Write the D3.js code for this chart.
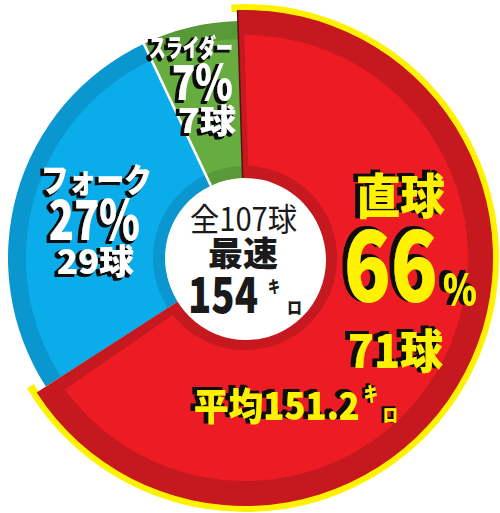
<!DOCTYPE html>
<html>
<head>
<meta charset="utf-8">
<script src="https://cdn.jsdelivr.net/npm/d3@7"></script>
<style>
  body { margin: 0; background: #fff; }
  svg { display: block; }
</style>
</head>
<body>
<svg id="chart" width="500" height="513"></svg>
<script>
// pitch mix
const pitchTypes = ["直球", "フォーク", "スライダー"];
const pitchCounts = [71, 29, 7];
const pitchPercents = [66, 27, 7];
// centre numbers
const totalPitches = 107;
const topSpeed = 154;
const avgFastball = 151.2;

const cx = 245, cy = 258;
const rHole = 80;
const rOuter = 237;     // blue / green
const rRed = 248;       // exploded fastball slice

const sliceColor = new Map();
sliceColor.set("直球", { main: "#ED1C24", dark: "#C5181F" });
sliceColor.set("フォーク", { main: "#0AADEA", dark: "#0A97CF" });
sliceColor.set("スライダー", { main: "#67AC3F", dark: "#579A37" });

const font = "'Noto Sans CJK JP', 'Noto Sans', sans-serif";

var svg = d3.select("#chart");

// drop shadows done with filters so each label is one text
var defs = svg.append("defs");
function makeShadow(id, dx, dy) {
    var f = defs.append("filter").attr("id", id)
        .attr("x", "-20%").attr("y", "-20%").attr("width", "140%").attr("height", "140%");
    f.append("feMorphology").attr("in", "SourceAlpha").attr("operator", "dilate").attr("radius", 0.7).attr("result", "fat");
    f.append("feOffset").attr("in", "fat").attr("dx", dx).attr("dy", dy).attr("result", "off");
    f.append("feFlood").attr("flood-color", "#111").attr("result", "blk");
    f.append("feComposite").attr("in", "blk").attr("in2", "off").attr("operator", "in").attr("result", "sh");
    var m = f.append("feMerge");
    m.append("feMergeNode").attr("in", "sh");
    m.append("feMergeNode").attr("in", "SourceGraphic");
}
makeShadow("shadow_white", -3, 2);
makeShadow("shadow_yellow", -4, -2);
makeShadow("shadow_small", -2, -1);

var g = svg.append("g").attr("transform", "translate(" + cx + "," + cy + ")");

var pie = d3.pie()
    .sort(null)
    .value(function(d) { return d.count; })
    .startAngle(-0.03)
    .endAngle(2 * Math.PI - 0.03);

var data = pitchTypes.map(function(t, i) {
    return { type: t, count: pitchCounts[i], pct: pitchPercents[i] };
});
var arcs = pie(data);
var red = arcs[0];
var others = arcs.slice(1);

// blue and green slices: dark ring then lighter body
g.selectAll(".slice_dark")
    .data(others)
    .join("path")
    .attr("class", "slice_dark")
    .attr("d", d3.arc().innerRadius(rHole).outerRadius(rOuter))
    .attr("fill", function(d) { return sliceColor.get(d.data.type).dark; });

g.selectAll(".slice_main")
    .data(others)
    .join("path")
    .attr("class", "slice_main")
    .attr("d", d3.arc().innerRadius(rHole + 12).outerRadius(rOuter - 18))
    .attr("fill", function(d) { return sliceColor.get(d.data.type).main; });

// white split between fork and slider
g.selectAll(".split")
    .data(others.slice(1))
    .join("line")
    .attr("class", "split")
    .attr("x1", function(d) { return rHole * Math.sin(d.startAngle); })
    .attr("y1", function(d) { return -rHole * Math.cos(d.startAngle); })
    .attr("x2", function(d) { return (rOuter + 2) * Math.sin(d.startAngle); })
    .attr("y2", function(d) { return -(rOuter + 2) * Math.cos(d.startAngle); })
    .attr("stroke", "#fff")
    .attr("stroke-width", 2.5);

// fastball slice with yellow rim
g.append("path")
    .attr("d", d3.arc()
        .innerRadius(rRed - 2)
        .outerRadius(rRed + 6)
        .startAngle(red.startAngle - 0.025)
        .endAngle(red.endAngle + 0.035)())
    .attr("fill", "#FFF200");

g.append("path")
    .attr("d", d3.arc().innerRadius(rHole).outerRadius(rRed)(red))
    .attr("fill", sliceColor.get("直球").dark);

g.append("path")
    .attr("d", d3.arc()
        .innerRadius(rHole + 12)
        .outerRadius(rRed - 25)
        .startAngle(red.startAngle)
        .endAngle(red.endAngle - 0.03)
        .padRadius(120)
        .padAngle(0.1)())
    .attr("fill", sliceColor.get("直球").main);

// thin dark edge at the top
g.append("line")
    .attr("x1", rHole * Math.sin(red.startAngle))
    .attr("y1", -rHole * Math.cos(red.startAngle))
    .attr("x2", rRed * Math.sin(red.startAngle))
    .attr("y2", -rRed * Math.cos(red.startAngle))
    .attr("stroke", "#5a0f10")
    .attr("stroke-width", 1.5);

// centre hole
g.append("circle")
    .attr("cx", 1).attr("cy", 2)
    .attr("r", rHole)
    .attr("fill", "#fff");

function label(x, y, str, size, fill, len, opts) {
    opts = opts || {};
    var t = svg.append("text")
        .attr("x", x).attr("y", y)
        .attr("font-family", font)
        .attr("font-weight", opts.weight || 900)
        .attr("font-size", size)
        .attr("textLength", len).attr("lengthAdjust", "spacingAndGlyphs")
        .attr("fill", fill)
        .text(str);
    if (opts.shadow) t.attr("filter", "url(#" + opts.shadow + ")");
}

// slider
label(149, 57, pitchTypes[2], 25, "#fff", 84, { shadow: "shadow_white" });
label(172, 100, pitchPercents[2] + "%", 48, "#fff", 61, { shadow: "shadow_white" });
label(178, 133, pitchCounts[2] + "球", 33, "#fff", 58, { shadow: "shadow_white" });

// fork
label(41, 192, pitchTypes[1], 33, "#fff", 111, { shadow: "shadow_white" });
label(49, 240, pitchPercents[1] + "%", 55, "#fff", 91, { shadow: "shadow_white" });
label(57, 274, pitchCounts[1] + "球", 34, "#fff", 77, { shadow: "shadow_white" });

// centre
label(190, 231, "全" + totalPitches + "球", 32, "#1a1a1a", 107, { weight: 400 });
label(208, 266, "最速", 34, "#1a1a1a", 70);
label(188, 313, String(topSpeed), 50, "#1a1a1a", 70);
label(268, 293, "キ", 17, "#1a1a1a", 12);
label(287, 314, "ロ", 17, "#1a1a1a", 15);

// fastball
var yel = "#FFF200";
label(356, 214, pitchTypes[0], 48, yel, 89, { shadow: "shadow_yellow" });
label(344, 302, String(pitchPercents[0]), 98, yel, 94, { shadow: "shadow_yellow" });
label(443, 305, "%", 42, yel, 34, { shadow: "shadow_yellow" });
label(348, 368, pitchCounts[0] + "球", 46, yel, 95, { shadow: "shadow_yellow" });
label(194, 420, "平均" + avgFastball.toFixed(1), 38, yel, 166, { shadow: "shadow_yellow" });
label(364, 402, "キ", 20, yel, 14, { shadow: "shadow_small" });
label(383, 422, "ロ", 18, yel, 15, { shadow: "shadow_small" });
</script>
</body>
</html>
